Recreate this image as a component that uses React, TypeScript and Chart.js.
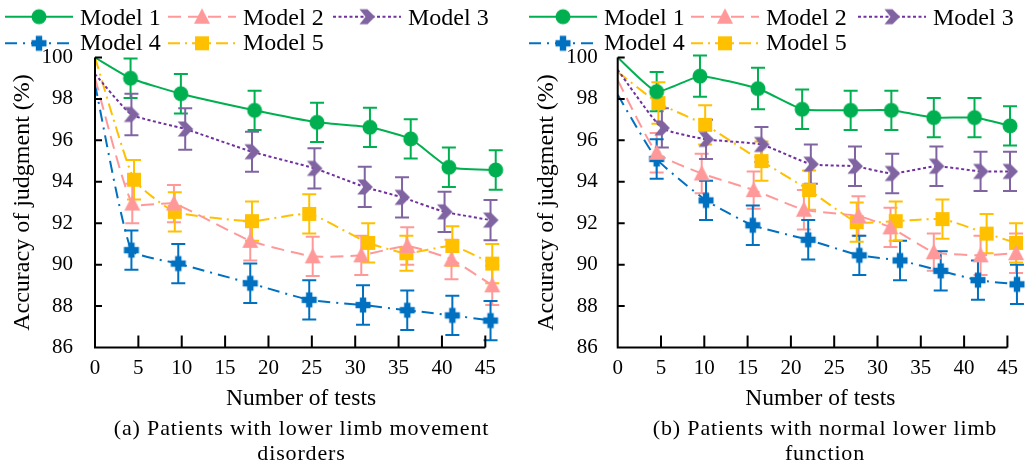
import React, { useEffect, useRef } from 'react';
import { Chart, registerables } from 'chart.js';

Chart.register(...registerables);

// ---------- shared labels / ticks ----------
const SERIES_LABELS = ['Model 1', 'Model 2', 'Model 3', 'Model 4', 'Model 5'];
const X_TICKS = [0, 5, 10, 15, 20, 25, 30, 35, 40, 45];
const Y_MIN = 86;
const Y_MAX = 100;
const Y_STEP = 2;
const X_TITLE = 'Number of tests';
const Y_TITLE = 'Accuracy of judgment (%)';
const CAPTION_A = ['(a) Patients with lower limb movement', 'disorders'];
const CAPTION_B = ['(b) Patients with normal lower limb', 'function'];

// ---------- panel (a) data ----------
const A_M1_X = [0, 4.1, 9.9, 18.4, 25.6, 31.7, 36.4, 40.8, 46.2];
const A_M1_Y = [100, 99.0, 98.25, 97.45, 96.87, 96.63, 96.07, 94.7, 94.57];
const A_M1_E = [0, 0.95, 0.95, 0.95, 0.95, 0.95, 0.95, 0.95, 0.95];

const A_M2_X = [0, 4.3, 9.1, 17.9, 25.1, 30.7, 36.0, 41.1, 45.8];
const A_M2_Y = [99.0, 92.95, 92.95, 91.15, 90.4, 90.45, 90.9, 90.25, 89.0];
const A_M2_E = [0, 0.95, 0.9, 0.95, 0.95, 0.95, 0.9, 0.95, 0.95];

const A_M3_X = [0, 4.2, 10.4, 18.1, 25.3, 31.1, 35.4, 40.3, 45.6];
const A_M3_Y = [99.2, 97.25, 96.55, 95.45, 94.65, 93.75, 93.25, 92.55, 92.15];
const A_M3_E = [0, 1.0, 1.0, 0.97, 0.97, 0.97, 0.97, 0.97, 0.97];

const A_M4_X = [0, 4.2, 9.6, 17.9, 24.7, 30.9, 36.0, 41.2, 45.6];
const A_M4_Y = [98.7, 90.7, 90.05, 89.1, 88.3, 88.05, 87.8, 87.55, 87.3];
const A_M4_E = [0, 0.95, 0.95, 0.95, 0.95, 0.95, 0.95, 0.95, 0.95];

const A_M5_X = [0, 4.5, 9.2, 18.1, 24.7, 31.5, 35.9, 41.2, 45.8];
const A_M5_Y = [100, 94.1, 92.55, 92.1, 92.45, 91.05, 90.55, 90.9, 90.05];
const A_M5_E = [0, 0.95, 0.95, 0.95, 0.95, 0.95, 0.85, 0.95, 0.95];

// ---------- panel (b) data ----------
const B_M1_X = [0, 4.5, 9.5, 16.2, 21.3, 26.9, 31.6, 36.5, 41.2, 45.3];
const B_M1_Y = [100, 98.35, 99.1, 98.5, 97.5, 97.45, 97.45, 97.1, 97.1, 96.7];
const B_M1_E = [0, 0.95, 1.0, 1.0, 0.95, 0.95, 0.95, 0.95, 0.95, 0.95];

const B_M2_X = [0, 4.5, 9.7, 15.7, 21.5, 27.8, 31.5, 36.5, 41.9, 46.0];
const B_M2_Y = [98.9, 95.4, 94.4, 93.6, 92.65, 92.35, 91.8, 90.6, 90.45, 90.55];
const B_M2_E = [0, 0.95, 0.95, 0.9, 0.95, 0.95, 0.95, 0.9, 0.95, 0.95];

const B_M3_X = [0, 5.1, 10.2, 16.6, 22.3, 27.4, 31.7, 36.8, 41.9, 45.3];
const B_M3_Y = [99.4, 96.6, 96.05, 95.8, 94.85, 94.75, 94.4, 94.75, 94.5, 94.5];
const B_M3_E = [0, 0.95, 0.95, 0.85, 0.95, 0.95, 0.95, 0.95, 0.95, 0.95];

const B_M4_X = [0, 4.5, 10.2, 15.6, 22.0, 27.9, 32.6, 37.3, 41.6, 46.1];
const B_M4_Y = [98.2, 95.1, 93.1, 91.9, 91.2, 90.45, 90.2, 89.7, 89.25, 89.05];
const B_M4_E = [0, 0.95, 0.95, 0.95, 0.95, 0.95, 0.95, 0.95, 0.95, 0.95];

const B_M5_X = [0, 4.7, 10.1, 16.6, 22.1, 27.6, 32.1, 37.5, 42.6, 46.0];
const B_M5_Y = [99.3, 97.8, 96.75, 95.0, 93.6, 92.05, 92.1, 92.2, 91.5, 91.05];
const B_M5_E = [0, 1.0, 0.95, 0.95, 0.95, 0.95, 0.95, 0.95, 0.95, 0.95];

// ---------- styles ----------
const LINE_COLORS = ['#00B050', '#FF9999', '#7030A0', '#0070C0', '#FFC000'];
const MARKER_COLORS = ['#00B050', '#FF9999', '#8064A2', '#0070C0', '#FFC000'];
const BAR_COLORS = ['#00B050', '#FF9999', '#8064A2', '#0070C0', '#FFC000'];
const DASHES: number[][] = [[], [13, 7], [3, 2.5], [12, 6, 2, 6], [12, 5, 2, 5]];
const MARKER_KINDS = ['circle', 'triangle', 'chevron', 'plus', 'square'];
const FONT = "'Liberation Serif', 'Times New Roman', serif";

function makeMarker(kind: string, color: string): HTMLCanvasElement {
  const c = document.createElement('canvas');
  c.width = 18;
  c.height = 18;
  const g = c.getContext('2d')!;
  g.fillStyle = color;
  g.translate(9, 9);
  g.beginPath();
  if (kind === 'circle') {
    g.arc(0, 0, 7.5, 0, Math.PI * 2);
    g.fill();
  } else if (kind === 'triangle') {
    g.moveTo(0, -8.5);
    g.lineTo(8, 7);
    g.lineTo(-8, 7);
    g.closePath();
    g.fill();
  } else if (kind === 'chevron') {
    g.moveTo(-7.5, -7.5);
    g.lineTo(0.5, -7.5);
    g.lineTo(8, 0);
    g.lineTo(0.5, 7.5);
    g.lineTo(-7.5, 7.5);
    g.lineTo(-1.5, 0);
    g.closePath();
    g.fill();
  } else if (kind === 'plus') {
    g.fillRect(-7.5, -3.2, 15, 6.4);
    g.fillRect(-3.2, -7.5, 6.4, 15);
  } else {
    g.fillRect(-7, -7, 14, 14);
  }
  return c;
}

type PanelCfg = {
  xs: number[][];
  ys: number[][];
  errs: number[][];
  xMax: number;
  padLeft: number;
  padRight: number;
  yAxisWidth: number;
  tickPad: number;
  legendX: number[];
};

const PANEL_A: PanelCfg = {
  xs: [A_M1_X, A_M2_X, A_M3_X, A_M4_X, A_M5_X],
  ys: [A_M1_Y, A_M2_Y, A_M3_Y, A_M4_Y, A_M5_Y],
  errs: [A_M1_E, A_M2_E, A_M3_E, A_M4_E, A_M5_E],
  xMax: 47.5,
  padLeft: 8,
  padRight: 1,
  yAxisWidth: 87,
  tickPad: 22,
  legendX: [5, 168, 333, 5, 168],
};

const PANEL_B: PanelCfg = {
  xs: [B_M1_X, B_M2_X, B_M3_X, B_M4_X, B_M5_X],
  ys: [B_M1_Y, B_M2_Y, B_M3_Y, B_M4_Y, B_M5_Y],
  errs: [B_M1_E, B_M2_E, B_M3_E, B_M4_E, B_M5_E],
  xMax: 46.8,
  padLeft: 16.6,
  padRight: 0,
  yAxisWidth: 85.1,
  tickPad: 20,
  legendX: [13, 175, 342, 13, 175],
};

function buildChart(canvas: HTMLCanvasElement, cfg: PanelCfg) {
  const markers = MARKER_KINDS.map((k, i) => makeMarker(k, MARKER_COLORS[i]));

  const datasets = SERIES_LABELS.map((label, i) => ({
    label,
    data: cfg.xs[i].map((x, j) => ({ x, y: cfg.ys[i][j] })),
    borderColor: LINE_COLORS[i],
    backgroundColor: MARKER_COLORS[i],
    borderWidth: 2,
    borderDash: DASHES[i],
    tension: 0.15,
    fill: false,
    clip: false as any,
    pointStyle: markers[i] as any,
    pointRadius: cfg.xs[i].map((_, j) => (j === 0 ? 0 : 7)),
    pointHoverRadius: cfg.xs[i].map((_, j) => (j === 0 ? 0 : 7)),
  }));

  const errorBars = {
    id: 'errorBars',
    beforeDatasetsDraw(chart: any) {
      const { ctx } = chart;
      const xs = chart.scales.x;
      const ysc = chart.scales.y;
      ctx.save();
      ctx.lineWidth = 2;
      ctx.setLineDash([]);
      for (let i = 0; i < cfg.xs.length; i++) {
        ctx.strokeStyle = BAR_COLORS[i];
        for (let j = 0; j < cfg.xs[i].length; j++) {
          const e = cfg.errs[i][j];
          if (!e) continue;
          const px = xs.getPixelForValue(cfg.xs[i][j]);
          const top = ysc.getPixelForValue(cfg.ys[i][j] + e);
          const bot = ysc.getPixelForValue(cfg.ys[i][j] - e);
          ctx.beginPath();
          ctx.moveTo(px, top);
          ctx.lineTo(px, bot);
          ctx.moveTo(px - 7, top);
          ctx.lineTo(px + 7, top);
          ctx.moveTo(px - 7, bot);
          ctx.lineTo(px + 7, bot);
          ctx.stroke();
        }
      }
      ctx.restore();
    },
  };

  const axes = {
    id: 'inwardAxes',
    afterDatasetsDraw(chart: any) {
      const { ctx } = chart;
      const xs = chart.scales.x;
      const ysc = chart.scales.y;
      const x0 = xs.getPixelForValue(0);
      const x1 = xs.getPixelForValue(X_TICKS[X_TICKS.length - 1]);
      const yTop = ysc.getPixelForValue(Y_MAX);
      const yBot = ysc.getPixelForValue(Y_MIN);
      ctx.save();
      ctx.strokeStyle = '#000';
      ctx.lineWidth = 2;
      ctx.setLineDash([]);
      ctx.beginPath();
      ctx.moveTo(x0, yTop);
      ctx.lineTo(x0, yBot);
      ctx.lineTo(x1, yBot);
      for (const v of X_TICKS) {
        if (v === 0) continue;
        const p = xs.getPixelForValue(v);
        ctx.moveTo(p, yBot);
        ctx.lineTo(p, yBot - 12);
      }
      for (let v = Y_MIN + Y_STEP; v <= Y_MAX; v += Y_STEP) {
        const p = ysc.getPixelForValue(v);
        ctx.moveTo(x0, p);
        ctx.lineTo(x0 + 7, p);
      }
      ctx.stroke();
      ctx.restore();
    },
  };

  const legend = {
    id: 'lineLegend',
    afterDraw(chart: any) {
      const { ctx } = chart;
      ctx.save();
      SERIES_LABELS.forEach((label, i) => {
        const row = i < 3 ? 0 : 1;
        const x = cfg.legendX[i];
        const yLine = row === 0 ? 16.7 : 43.3;
        const yText = row === 0 ? 25 : 50;
        ctx.strokeStyle = LINE_COLORS[i];
        ctx.lineWidth = 2;
        ctx.setLineDash(DASHES[i]);
        ctx.beginPath();
        ctx.moveTo(x, yLine);
        ctx.lineTo(x + 68, yLine);
        ctx.stroke();
        ctx.setLineDash([]);
        const m = markers[i];
        ctx.drawImage(m, x + 34 - m.width / 2, yLine - m.height / 2);
        ctx.fillStyle = '#000';
        ctx.font = `24px ${FONT}`;
        ctx.textAlign = 'left';
        ctx.textBaseline = 'alphabetic';
        ctx.fillText(label, x + 75, yText);
      });
      ctx.restore();
    },
  };

  return new Chart(canvas, {
    type: 'line',
    data: { datasets: datasets as any },
    plugins: [errorBars, axes, legend],
    options: {
      animation: false,
      responsive: false,
      devicePixelRatio: 1,
      layout: { padding: { top: 57.5, left: cfg.padLeft, right: cfg.padRight, bottom: 56.9 } },
      plugins: { legend: { display: false }, tooltip: { enabled: false } },
      scales: {
        x: {
          type: 'linear',
          min: 0,
          max: cfg.xMax,
          grid: { display: false, drawTicks: false },
          border: { display: false },
          afterBuildTicks: (s: any) => {
            s.ticks = X_TICKS.map((v) => ({ value: v }));
          },
          afterFit: (s: any) => {
            s.height = 65.6;
          },
          ticks: {
            padding: 8,
            color: '#000',
            font: { family: FONT, size: 21 },
            maxRotation: 0,
            autoSkip: false,
          },
          title: {
            display: true,
            text: X_TITLE,
            color: '#000',
            font: { family: FONT, size: 23.5 },
            padding: { top: 0, bottom: 0 },
          },
        },
        y: {
          min: Y_MIN,
          max: Y_MAX,
          grid: { display: false, drawTicks: false },
          border: { display: false },
          afterFit: (s: any) => {
            s.width = cfg.yAxisWidth;
          },
          ticks: {
            stepSize: Y_STEP,
            padding: cfg.tickPad,
            color: '#000',
            font: { family: FONT, size: 21 },
          },
          title: {
            display: true,
            text: Y_TITLE,
            color: '#000',
            font: { family: FONT, size: 24 },
            padding: { top: 0, bottom: 0 },
          },
        },
      },
    } as any,
  });
}

function Panel({ cfg, left }: { cfg: PanelCfg; left: number }) {
  const ref = useRef<HTMLCanvasElement>(null);
  useEffect(() => {
    if (!ref.current) return;
    const chart = buildChart(ref.current, cfg);
    return () => chart.destroy();
  }, [cfg]);
  return (
    <canvas
      ref={ref}
      width={516}
      height={470}
      style={{ position: 'absolute', left, top: 0, width: 516, height: 470, display: 'block' }}
    />
  );
}

function Caption({ lines, center }: { lines: string[]; center: number }) {
  return (
    <div
      style={{
        position: 'absolute',
        left: center - 250,
        width: 500,
        top: 414.8,
        textAlign: 'center',
        fontFamily: FONT,
        fontSize: 22,
        lineHeight: '25.5px',
        letterSpacing: '0.85px',
        color: '#000',
        whiteSpace: 'nowrap',
      }}
    >
      {lines.map((l, i) => (
        <div key={i}>{l}</div>
      ))}
    </div>
  );
}

export default function App() {
  return (
    <div
      style={{
        position: 'absolute',
        left: 0,
        top: 0,
        width: 1032,
        height: 470,
        background: '#fff',
        overflow: 'hidden',
      }}
    >
      <Panel cfg={PANEL_A} left={0} />
      <Panel cfg={PANEL_B} left={516} />
      <Caption lines={CAPTION_A} center={301.5} />
      <Caption lines={CAPTION_B} center={825} />
    </div>
  );
}
